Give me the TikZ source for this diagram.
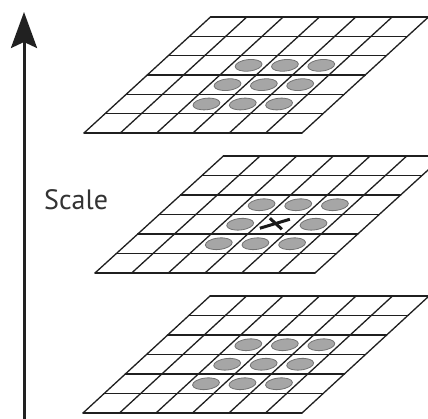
\documentclass[tikz,border=0pt]{standalone}
\usepackage{fontspec}
\newfontfamily\scalefont{PT Sans}
\usetikzlibrary{arrows.meta,shapes.geometric}
\tikzset{
  gridline/.style={line width=1.3pt, draw=black!88, line cap=round},
  hgridline/.style={line width=1.5pt, draw=black!88, line cap=round},
  blob/.style={ellipse, draw=black!55, fill=black!35, line width=0.8pt,
    minimum width=27pt, minimum height=11.5pt, inner sep=0pt, rotate=6},
  xmark/.style={line width=3pt, draw=black!90},
  scalearrow/.style={line width=3pt, draw=black!87, fill=black!87,
    -{Stealth[length=36pt,width=26pt,inset=6pt]}},
}
% #1 name, #2 BL x, #3 BL y, #4 column width, #5 row vector, #6 skip centre (1/0)
\newcommand{\mylayer}[6]{%
  \begin{scope}[shift={(#2,#3)}, x={(#4pt,0pt)}, y={(#5)}]
    \foreach \i in {0,...,6} {
      \draw[gridline] (\i,0) -- (\i,6);
      \draw[hgridline] (0,\i) -- (6,\i);
    }
    \foreach \c in {2,3,4} {
      \foreach \r in {1,2,3} {
        \pgfmathtruncatemacro\skipit{#6*(\c==3)*(\r==2)}
        \ifnum\skipit=0
          \node[blob] (#1-\c-\r) at (\c+0.5,\r+0.5) {};
        \fi
      }
    }
    \coordinate (#1-centre) at (3.5,2.5);
  \end{scope}%
}
\begin{document}
\begin{tikzpicture}[x=1pt,y=1pt]
  \useasboundingbox (0,0) rectangle (428,419);
  \clip (0,0) rectangle (428,419);
  \fill[white] (0,0) rectangle (428,419);
  % layers
  \mylayer{top}{84}{286}{36.33}{21.08pt,19.33pt}{0}
  \mylayer{mid}{95}{146}{36.67}{21.4pt,19.5pt}{1}
  \mylayer{bot}{83}{6}{36.5}{21.17pt,19.5pt}{0}
  % cross in the centre of the middle layer
  \path (mid-centre) ++(-17,-4) coordinate (xa1);
  \path (mid-centre) ++(13,5) coordinate (xa2);
  \path (mid-centre) ++(-7,6) coordinate (xb1);
  \path (mid-centre) ++(5,-5) coordinate (xb2);
  \draw[xmark] (xa1) -- (xa2);
  \draw[xmark] (xb1) -- (xb2);
  % scale arrow
  \coordinate (abot) at (24,-2);
  \coordinate (atop) at (24,407);
  \draw[scalearrow] (abot) -- (atop);
  \node[anchor=base west, font=\scalefont\fontsize{28}{30}\selectfont,
        text=black!80, inner sep=0pt] (scale) at (44,209) {Scale};
\end{tikzpicture}
\end{document}
